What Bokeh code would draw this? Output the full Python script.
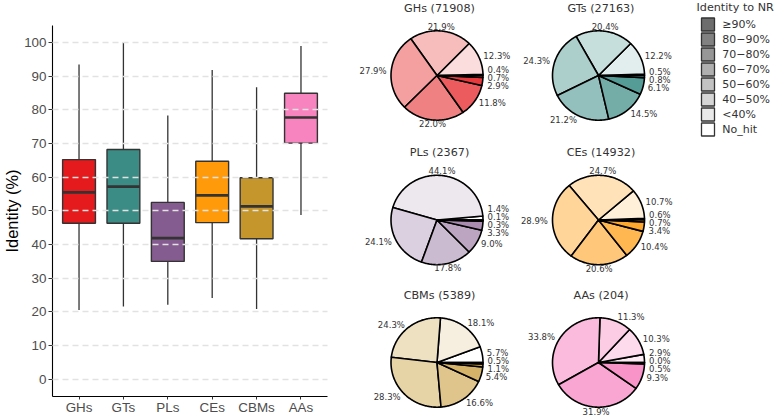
import math
from bokeh.plotting import figure
from bokeh.models import ColumnDataSource, Range1d, FactorRange, FixedTicker
from bokeh.layouts import row
from bokeh.transform import dodge
from bokeh.core.properties import value
from bokeh.embed import file_html
from bokeh.resources import INLINE

# ------------------------------------------------------------------ data
families = ["GHs", "GTs", "PLs", "CEs", "CBMs", "AAs"]
whisker_low = [20.6, 21.6, 22.1, 24.1, 20.9, 48.8]
q1 = [46.3, 46.3, 35.0, 46.5, 41.7, 70.1]
median = [55.5, 57.2, 41.9, 54.6, 51.3, 77.7]
q3 = [65.2, 68.2, 52.5, 64.7, 59.8, 84.9]
whisker_high = [93.4, 100.0, 78.3, 91.8, 86.7, 98.9]
y_ticks = list(range(0, 101, 10))

family_counts = [71908, 27163, 2367, 14932, 5389, 204]
# slice order (anticlockwise from 3 o'clock): No_hit, <40, 40-50, 50-60, 60-70, 70-80, 80-90, >=90
pct_GHs = [0.4, 12.3, 21.9, 27.9, 22.0, 11.8, 2.9, 0.7]
pct_GTs = [0.5, 12.2, 20.4, 24.3, 21.2, 14.5, 6.1, 0.8]
pct_PLs = [1.4, 44.1, 24.1, 17.8, 9.0, 3.3, 0.3, 0.1]
pct_CEs = [0.6, 10.7, 24.7, 28.9, 20.6, 10.4, 3.4, 0.7]
pct_CBMs = [5.7, 18.1, 24.3, 28.3, 16.6, 5.4, 1.1, 0.5]
pct_AAs = [0.0, 2.9, 10.3, 11.3, 33.8, 31.9, 9.3, 0.5]
pie_pcts = [pct_GHs, pct_GTs, pct_PLs, pct_CEs, pct_CBMs, pct_AAs]

legend_title = "Identity to NR"
legend_labels = ["≥90%", "80−90%", "70−80%", "60−70%", "50−60%", "40−50%", "<40%", "No_hit"]

# ------------------------------------------------------------------ style
box_colors = ["#e41a1c", "#3b8c85", "#845c8f", "#ff9a0b", "#c4962c", "#f783bf"]
class_alpha = [0.0, 0.15, 0.29, 0.42, 0.55, 0.71, 0.86, 1.0]   # No_hit ... >=90
legend_alpha = [1.0, 0.86, 0.71, 0.55, 0.42, 0.29, 0.15, 0.0]
legend_base = "#6d6d6d"


def blend(hex_color, a):
    h = hex_color.lstrip("#")
    r, g, b = (int(h[i:i + 2], 16) for i in (0, 2, 4))
    return "#%02x%02x%02x" % tuple(round(255 - a * (255 - c)) for c in (r, g, b))


TOTAL_W, H = 778, 417
W1 = 340
W2 = TOTAL_W - W1

# ------------------------------------------------------------------ boxplot
p = figure(width=W1, height=H,
           x_range=FactorRange(factors=families, range_padding=0.0325),
           y_range=Range1d(-5.1, 105.0),
           output_backend="svg", toolbar_location=None, frame_align=False,
           min_border_left=51, min_border_right=13, min_border_top=25, min_border_bottom=18)
p.outline_line_color = None

src = ColumnDataSource(dict(fam=families, lo=whisker_low, q1=q1, med=median, q3=q3,
                            hi=whisker_high, color=box_colors))
p.segment(x0="fam", y0="q3", x1="fam", y1="hi", source=src, line_color="#333333", line_width=1.3)
p.segment(x0="fam", y0="lo", x1="fam", y1="q1", source=src, line_color="#333333", line_width=1.3)
p.vbar(x="fam", top="q3", bottom="q1", width=0.74, source=src, fill_color="color",
       line_color="#333333", line_width=1.4)
p.segment(x0=dodge("fam", -0.37, range=p.x_range), x1=dodge("fam", 0.37, range=p.x_range),
          y0="med", y1="med", source=src, line_color="#333333", line_width=2.7)

p.yaxis.ticker = FixedTicker(ticks=y_ticks)
p.ygrid.ticker = FixedTicker(ticks=y_ticks)
p.xgrid.grid_line_color = None
p.ygrid.grid_line_color = "#e2e2e2"
p.ygrid.grid_line_dash = "6 4"
p.ygrid.grid_line_width = 1.3
p.ygrid.level = "overlay"

for ax in (p.xaxis, p.yaxis):
    ax.axis_line_color = "black"
    ax.axis_line_width = 1.1
    ax.major_tick_line_color = "#333333"
    ax.major_tick_out = 4
    ax.major_tick_in = 0
    ax.minor_tick_line_color = None
    ax.major_label_text_font = "Liberation Sans"
    ax.major_label_text_font_size = "13.4px"
    ax.major_label_text_color = "#4d4d4d"
p.xaxis.major_tick_out = 3
p.xaxis.major_label_standoff = 0
p.yaxis.major_label_standoff = 2
p.yaxis.axis_label = "Identity (%)"
p.yaxis.axis_label_text_font = "Liberation Sans"
p.yaxis.axis_label_text_font_size = "16.4px"
p.yaxis.axis_label_text_font_style = "normal"
p.yaxis.axis_label_text_color = "black"
p.yaxis.axis_label_standoff = 0

# ------------------------------------------------------------------ pies
X0, X1 = W1, TOTAL_W
q = figure(width=W2, height=H, x_range=Range1d(X0, X1), y_range=Range1d(0, H),
           output_backend="svg", toolbar_location=None, frame_align=False, min_border=0)
q.axis.visible = False
q.grid.visible = False
q.outline_line_color = None

PIE_CX = [436.5, 598.0]
PIE_CY = [75.0, 219.5, 362.0]   # measured from the top
RX, RY = 46.0, 44.7
LABEL_K = 1.1
TITLE_DY = 67.5
GAP = 8.0


def fy(y_top):
    return H - y_top


def spread(ys, gap):
    ys = list(ys)
    order = sorted(range(len(ys)), key=lambda i: ys[i])
    for _ in range(300):
        moved = False
        for a, b in zip(order, order[1:]):
            d = ys[b] - ys[a]
            if d < gap - 1e-6:
                push = (gap - d) / 2
                ys[a] -= push
                ys[b] += push
                moved = True
        if not moved:
            break
    return ys


label_font = value("DejaVu Sans")
for k, (fam, cnt, pcts, base) in enumerate(zip(families, family_counts, pie_pcts, box_colors)):
    cx = PIE_CX[k % 2]
    cy = PIE_CY[k // 2]
    total = sum(pcts)
    colors = [blend(base, a) for a in class_alpha]
    xs, ys, mids = [], [], []
    acc = 0.0
    for v in pcts:
        a0 = 2 * math.pi * acc / total
        acc += v
        a1 = 2 * math.pi * acc / total
        mids.append((a0 + a1) / 2)
        n = max(2, int(math.degrees(a1 - a0)) + 2)
        angs = [a0 + (a1 - a0) * j / (n - 1) for j in range(n)]
        xs.append([cx] + [cx + RX * math.cos(a) for a in angs])
        ys.append([fy(cy)] + [fy(cy - RY * math.sin(a)) for a in angs])
    q.patches(xs=xs, ys=ys, fill_color=colors, line_color="black", line_width=1.6,
              line_join="round")

    # labels
    lx = [cx + LABEL_K * RX * math.cos(m) for m in mids]
    ly = [cy - LABEL_K * RY * math.sin(m) for m in mids]  # top-down coordinates
    txt = ["%.1f%%" % v for v in pcts]
    groups = {"left": [], "right": [], "center": []}
    for i, m in enumerate(mids):
        c = math.cos(m)
        if c > 0.3:
            groups["left"].append(i)
        elif c < -0.3:
            groups["right"].append(i)
        else:
            groups["center"].append(i)
    for align, idx in groups.items():
        if not idx:
            continue
        yy = [ly[i] for i in idx]
        if align != "center":
            yy = spread(yy, GAP)
        q.text(x=[lx[i] for i in idx], y=[fy(y) for y in yy], text=[txt[i] for i in idx],
               text_align=align, text_baseline="middle", text_font=label_font,
               text_font_size="8.5px", text_color="#333333")
    q.text(x=[cx + 2.5], y=[fy(cy - TITLE_DY)], text=["%s (%d)" % (fam, cnt)],
           text_align="center", text_baseline="middle", text_font=label_font,
           text_font_size="11.2px", text_color="#333333")

# ------------------------------------------------------------------ legend
LEG_X = 696.0
LEG_TITLE_Y = 6.5
LEG_Y0 = 24.0
LEG_STEP = 15.0
SW = 13.0
leg_y = [fy(LEG_Y0 + i * LEG_STEP) for i in range(len(legend_labels))]
q.text(x=[LEG_X], y=[fy(LEG_TITLE_Y)], text=[legend_title], text_align="left",
       text_baseline="middle", text_font=label_font, text_font_size="11.2px",
       text_color="#333333")
q.rect(x=[LEG_X + 5 + SW / 2] * len(legend_labels), y=leg_y, width=SW, height=SW,
       fill_color=[blend(legend_base, a) for a in legend_alpha], line_color="#333333",
       line_width=1.3)
q.text(x=[LEG_X + 25.7] * len(legend_labels), y=leg_y, text=legend_labels,
       text_align="left", text_baseline="middle", text_font=label_font,
       text_font_size="11px", text_color="#333333")

layout = row(p, q)
open("out.html", "w").write(file_html(layout, INLINE))
